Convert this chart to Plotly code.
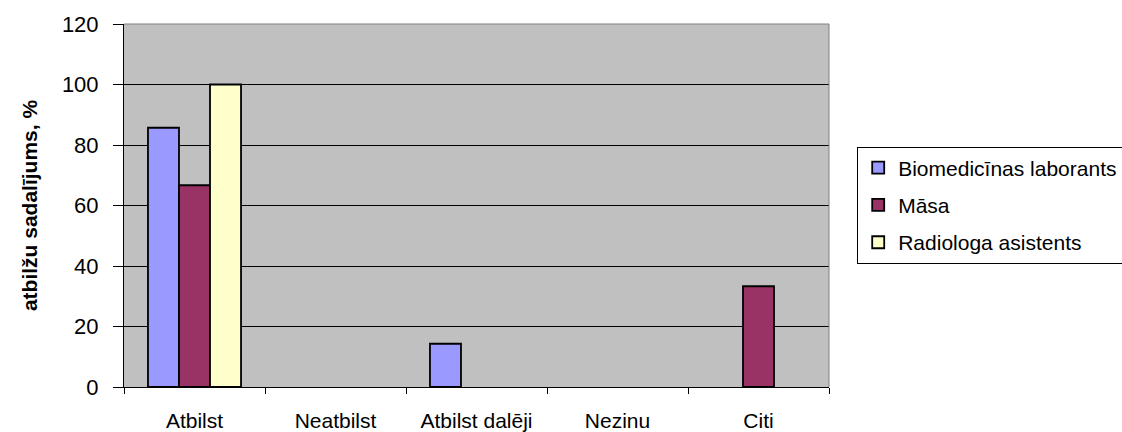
import plotly.graph_objects as go

categories = ["Atbilst", "Neatbilst", "Atbilst dalēji", "Nezinu", "Citi"]
series_names = ["Biomedicīnas laborants", "Māsa", "Radiologa asistents"]
bio_values = [85.7, 0, 14.3, 0, 0]
masa_values = [66.7, 0, 0, 0, 33.3]
radiologa_values = [100, 0, 0, 0, 0]
y_ticks = [0, 20, 40, 60, 80, 100, 120]

colors = ["#9999FF", "#993366", "#FFFFCC"]
font_family = "Liberation Sans, Arial, sans-serif"

fig = go.Figure()
for i, (name, vals) in enumerate(zip(series_names, [bio_values, masa_values, radiologa_values])):
    # no outline on empty (zero) bars
    widths = [1.8 if v else 0 for v in vals]
    fig.add_trace(go.Bar(
        x=categories, y=vals, name=name,
        marker=dict(color=colors[i], line=dict(color="black", width=widths)),
        legendgroup=f"g{i}",
    ))

fig.update_layout(
    width=1122, height=432,
    margin=dict(l=124, r=293, t=24, b=45, autoexpand=False),
    paper_bgcolor="white",
    plot_bgcolor="#C0C0C0",
    barmode="group",
    bargap=0.34,
    bargroupgap=0,
    font=dict(family=font_family, color="black"),
    showlegend=True,
    legend=dict(
        x=1.04, y=0.6625, xanchor="left", yanchor="top",
        bordercolor="black", borderwidth=1, bgcolor="white",
        font=dict(size=21, family=font_family),
        traceorder="grouped", tracegroupgap=7,
    ),
)
fig.update_xaxes(
    type="category", automargin=False,
    showline=True, linecolor="black", linewidth=1,
    ticks="outside", ticklen=6, tickcolor="black", tickson="boundaries",
    tickfont=dict(size=21),
    ticklabelstandoff=15,
    showgrid=False,
)
fig.update_yaxes(
    range=[0, 120], tickvals=y_ticks, automargin=False,
    showline=True, linecolor="black", linewidth=1,
    ticks="outside", ticklen=10, tickcolor="black",
    tickfont=dict(size=22),
    ticklabelstandoff=10,
    showgrid=True, gridcolor="black", gridwidth=1,
    zeroline=False,
    title=dict(text="<b>atbilžu sadalījums, %</b>", font=dict(size=21), standoff=18),
)
# Gray frame on top and right edges of the plot area
fig.add_shape(type="line", xref="paper", yref="paper", x0=0, x1=1, y0=1, y1=1,
              line=dict(color="#808080", width=1), layer="above")
fig.add_shape(type="line", xref="paper", yref="paper", x0=1, x1=1, y0=0, y1=1,
              line=dict(color="#808080", width=1), layer="above")

fig.write_html("out.html")
